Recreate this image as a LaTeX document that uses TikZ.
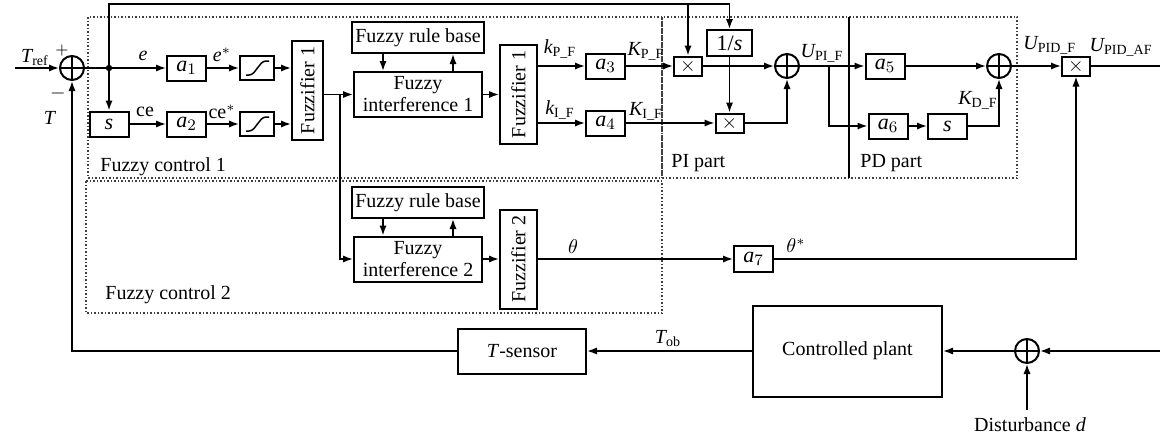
\documentclass[tikz,border=0pt]{standalone}
\usepackage{amsmath}
\usepackage{fontspec}
\setmainfont{Liberation Serif}
\usetikzlibrary{arrows.meta}

\begin{document}
\begin{tikzpicture}[x=0.5pt,y=-0.5pt,
    >={Latex[length=5pt,width=3.6pt]},
    line width=0.75pt,
    font=\fontsize{10}{11}\selectfont,
    blk/.style={draw,line width=1pt,inner sep=0pt,align=center},
    gain/.style={blk,minimum width=19.5pt,minimum height=12.5pt,font=\fontsize{11}{12}\selectfont},
    satbox/.style={blk,minimum width=17pt,minimum height=12pt},
    mult/.style={blk,minimum width=14pt,minimum height=9.5pt},
    fuzz/.style={blk,rotate=90,minimum width=49.5pt,minimum height=#1},
    rulebox/.style={blk,minimum width=66pt,minimum height=15.5pt},
    infbox/.style={blk,minimum width=64pt,minimum height=22.5pt},
    sumc/.style={draw,circle,line width=1pt,minimum size=12pt,inner sep=0pt,
      path picture={\draw[line width=1pt] (path picture bounding box.north) -- (path picture bounding box.south)
        (path picture bounding box.west) -- (path picture bounding box.east);}},
    frame/.style={densely dotted,line width=0.75pt,black!75}]
  \useasboundingbox (0,0) rectangle (1160,439);

  % dotted frames
  \draw[frame] (88,17) rectangle (662,178);
  \draw[frame] (662,17) rectangle (1017,178);
  \draw[frame] (86,181) rectangle (662,313);
  \draw (849,17) -- (849,178);

  % fuzzy control 1
  \node[sumc] (s1) at (72,68) {};
  \coordinate (in) at (15,68);
  \coordinate (br1) at (109,68);
  \coordinate (top) at (109,4);
  \node[gain] (a1) at (186.5,68) {$\textit{a}_{1}$};
  \node[satbox] (sat1) at (257,68) {};
  \node[gain] (sd) at (109,124) {\textit{s}};
  \node[gain] (a2) at (186.5,124) {$\textit{a}_{2}$};
  \node[satbox] (sat2) at (257,124) {};
  \node[fuzz=15.5pt] (fz1) at (307.5,90.5) {Fuzzifier 1};
  \node[rulebox] (rb1) at (418,37.5) {Fuzzy rule base};
  \node[infbox] (fi1) at (418,94.5) {Fuzzy\\interference 1};
  \node[fuzz=18.5pt] (fz1b) at (518.5,94.5) {Fuzzifier 1};
  \coordinate (br2) at (340,94.5);
  \node[gain] (a3) at (605.5,66) {$\textit{a}_{3}$};
  \node[gain] (a4) at (605.5,123) {$\textit{a}_{4}$};

  % PI / PD part
  \node[mult] (m1) at (688,66) {$\times$};
  \node[blk,minimum width=22.5pt,minimum height=13pt,font=\fontsize{11}{12}\selectfont] (inv) at (729.5,43) {1/\textit{s}};
  \node[mult] (m2) at (729.5,123) {$\times$};
  \node[sumc] (s2) at (787,66) {};
  \coordinate (br3) at (829,66);
  \node[gain] (a5) at (885,66) {$\textit{a}_{5}$};
  \node[gain] (a6) at (888,126) {$\textit{a}_{6}$};
  \node[gain] (sd2) at (947.5,126) {\textit{s}};
  \node[sumc] (s3) at (999,66) {};
  \node[mult] (m3) at (1076,66) {$\times$};
  \coordinate (out) at (1160,66);

  % fuzzy control 2
  \node[rulebox] (rb2) at (418,202.5) {Fuzzy rule base};
  \node[infbox] (fi2) at (418,259) {Fuzzy\\interference 2};
  \node[fuzz=18.5pt] (fz2) at (518.5,259) {Fuzzifier 2};
  \node[gain,minimum height=13pt] (a7) at (753.5,259) {$\textit{a}_{7}$};

  % plant loop
  \node[blk,minimum width=64pt,minimum height=22.5pt] (sens) at (522,351) {\textit{T}-sensor};
  \node[blk,minimum width=94.5pt,minimum height=45.5pt] (plant) at (847.5,351) {Controlled plant};
  \node[sumc] (ds) at (1027,351) {};
  \coordinate (din) at (1160,351);
  \node[anchor=base] (dl) at (1030,431) {Disturbance \textit{d}};

  % saturation curves
  \foreach \n in {sat1,sat2}
    \draw[rounded corners=1.5pt] ([shift={(-11,7)}]\n.center) -- ++(6,0) -- ++(11,-14) -- ++(6,0);

  % labels
  \node (lref) at (35,58) {$\textit{T}_{\textrm{ref}}$};
  \node[font=\footnotesize] (lplus) at (62,50) {$+$};
  \node (lminus) at (58,93) {$-$};
  \node (lT) at (50,118) {\textit{T}};
  \node (le) at (143,56) {\textit{e}};
  \node (les) at (222,55) {$\textit{e}^{*}$};
  \node (lce) at (145,112) {ce};
  \node (lces) at (222,112) {ce$^{*}$};
  \node (lkp) at (560,49) {$\textit{k}_{\textrm{P\_F}}$};
  \node (lki) at (560,110) {$\textit{k}_{\textrm{I\_F}}$};
  \node (lKp) at (646,51) {$\textit{K}_{\textrm{P\_F}}$};
  \node (lKi) at (646,111) {$\textit{K}_{\textrm{I\_F}}$};
  \node (lupi) at (822,53) {$\textit{U}_{\textrm{PI\_F}}$};
  \node (lkd) at (978,100) {$\textit{K}_{\textrm{D\_F}}$};
  \node[anchor=west] (lupid) at (1016,45) {$\textit{U}_{\textrm{PID\_F}}$};
  \node[anchor=east] (lout) at (1160,47) {$\textit{U}_{\textrm{PID\_AF}}$};
  \node (lth) at (573,247) {$\theta$};
  \node (lths) at (796,246) {$\theta^{*}$};
  \node (lob) at (668,339) {$\textit{T}_{\textrm{ob}}$};
  \node[anchor=base west] (lfc1) at (93,171) {Fuzzy control 1};
  \node[anchor=base west] (lfc2) at (98,299) {Fuzzy control 2};
  \node[anchor=base west] (lpi) at (664,167) {PI part};
  \node[anchor=base west] (lpd) at (853,167) {PD part};

  % connectors
  \draw[->] (in) -- (s1);
  \draw (s1) -- (br1);
  \fill (br1) circle (1.6pt);
  \draw[->] (br1) -- (a1);
  \draw[->] (br1) -- (sd);
  \draw[->] (a1) -- (sat1);
  \draw[->] (sat1) -- (sat1 -| fz1.north);
  \draw[->] (sd) -- (a2);
  \draw[->] (a2) -- (sat2);
  \draw[->] (sat2) -- (sat2 -| fz1.north);
  \draw[->] (fi1 -| fz1.south) -- (fi1);
  \draw[->] (br2) |- (fi2);
  \draw[->] ([xshift=-17.5pt]rb1.south) -- ([xshift=-17.5pt]fi1.north);
  \draw[->] ([xshift=17.5pt]fi1.north) -- ([xshift=17.5pt]rb1.south);
  \draw[->] ([xshift=-17.5pt]rb2.south) -- ([xshift=-17.5pt]fi2.north);
  \draw[->] ([xshift=17.5pt]fi2.north) -- ([xshift=17.5pt]rb2.south);
  \draw[->] (fi1) -- (fi1 -| fz1b.north);
  \draw[->] (a3 -| fz1b.south) -- (a3);
  \draw[->] (a4 -| fz1b.south) -- (a4);
  \draw[->] (a3) -- (m1);
  \draw[->] (a4) -- (m2);
  \draw[->] (br1) |- (inv |- top) -- (inv);
  \draw[->] (m1 |- top) -- (m1);
  \draw[->] (inv) -- (m2);
  \draw[->] (m1) -- (s2);
  \draw[->] (m2) -| (s2);
  \draw[->] (s2) -- (a5);
  \draw[->] (br3) |- (a6);
  \draw[->] (a5) -- (s3);
  \draw[->] (a6) -- (sd2);
  \draw[->] (sd2) -| (s3);
  \draw[->] (s3) -- (m3);
  \draw (m3) -- (out);
  \draw[->] (fi2) -- (fz2);
  \draw[->] (fz2) -- (a7);
  \draw[->] (a7) -| (m3);
  \draw[->] (din) -- (ds);
  \draw[->] (ds) -- (plant);
  \draw[->] (plant) -- (sens);
  \draw[->] (sens) -| (s1);
  \draw[->] (ds |- dl.north) -- (ds);
\end{tikzpicture}
\end{document}
